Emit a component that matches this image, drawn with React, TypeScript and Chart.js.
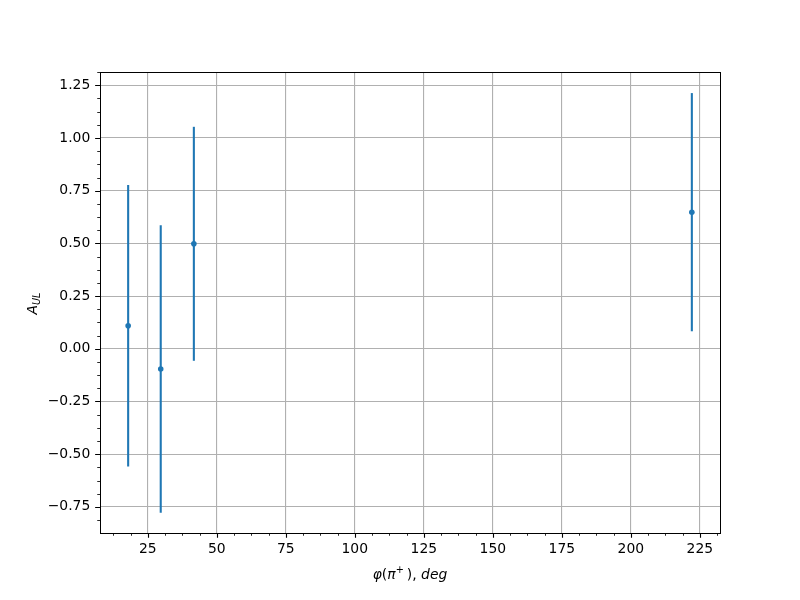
import React, { useEffect, useRef } from "react";
import { Chart, registerables } from "chart.js";

Chart.register(...registerables);

const xValues = [17.9, 29.7, 41.7, 222.1];
const yValues = [0.109, -0.096, 0.498, 0.648];
const yErrors = [0.668, 0.682, 0.555, 0.565];
const xTicks = [25, 50, 75, 100, 125, 150, 175, 200, 225];
const yTicks = [-0.75, -0.5, -0.25, 0, 0.25, 0.5, 0.75, 1.0, 1.25];
const xRange = [7.7, 232.3];
const yRange = [-0.874, 1.313];
const xMinorStep = 6.25;
const yMinorStep = 0.0625;

const BLUE = "#1f77b4";
const FONT = "'DejaVu Sans', sans-serif";
const FS = 13.9;
const PT = 100 / 72;

function minorTicks(range: number[], step: number, majors: number[]) {
  const out: number[] = [];
  const start = Math.ceil(range[0] / step);
  const end = Math.floor(range[1] / step);
  for (let i = start; i <= end; i++) {
    const v = i * step;
    if (!majors.some((m) => Math.abs(m - v) < 1e-9)) out.push(v);
  }
  return out;
}

type Seg = { t: string; it?: boolean; sup?: boolean; sub?: boolean };

function drawRich(ctx: CanvasRenderingContext2D, segs: Seg[], cx: number, cy: number) {
  const fontFor = (s: Seg) => {
    const size = s.sup || s.sub ? FS * 0.7 : FS;
    return `${s.it ? "italic " : ""}${size}px ${FONT}`;
  };
  let total = 0;
  const widths = segs.map((s) => {
    ctx.font = fontFor(s);
    const w = ctx.measureText(s.t).width;
    total += w;
    return w;
  });
  let x = cx - total / 2;
  ctx.textBaseline = "alphabetic";
  ctx.textAlign = "left";
  segs.forEach((s, i) => {
    ctx.font = fontFor(s);
    let dy = 0;
    if (s.sup) dy = -FS * 0.45;
    if (s.sub) dy = FS * 0.2;
    ctx.fillText(s.t, x, cy + dy);
    x += widths[i];
  });
}

const errorBarPlugin = {
  id: "errorBars",
  beforeDatasetsDraw(chart: any) {
    const { ctx, scales } = chart;
    const xs = scales.x;
    const ys = scales.y;
    ctx.save();
    ctx.strokeStyle = BLUE;
    ctx.lineWidth = 1.5 * PT;
    xValues.forEach((xv, i) => {
      const px = xs.getPixelForValue(xv);
      const p1 = ys.getPixelForValue(yValues[i] - yErrors[i]);
      const p2 = ys.getPixelForValue(yValues[i] + yErrors[i]);
      ctx.beginPath();
      ctx.moveTo(px, p1);
      ctx.lineTo(px, p2);
      ctx.stroke();
    });
    ctx.restore();
  },
};

const mplAxesPlugin = {
  id: "mplAxes",
  afterDraw(chart: any) {
    const { ctx, chartArea, scales } = chart;
    const { left, right, top, bottom } = chartArea;
    const xs = scales.x;
    const ys = scales.y;
    ctx.save();
    ctx.strokeStyle = "#000";
    // major ticks
    ctx.lineWidth = 0.8 * PT;
    ctx.beginPath();
    xTicks.forEach((v) => {
      const p = Math.round(xs.getPixelForValue(v)) + 0.5;
      ctx.moveTo(p, bottom);
      ctx.lineTo(p, bottom + 3.5 * PT);
    });
    yTicks.forEach((v) => {
      const p = Math.round(ys.getPixelForValue(v)) + 0.5;
      ctx.moveTo(left, p);
      ctx.lineTo(left - 3.5 * PT, p);
    });
    ctx.stroke();
    // minor ticks
    ctx.lineWidth = 0.6 * PT;
    ctx.beginPath();
    minorTicks(xRange, xMinorStep, xTicks).forEach((v) => {
      const p = Math.round(xs.getPixelForValue(v)) + 0.5;
      ctx.moveTo(p, bottom);
      ctx.lineTo(p, bottom + 2 * PT);
    });
    minorTicks(yRange, yMinorStep, yTicks).forEach((v) => {
      const p = Math.round(ys.getPixelForValue(v)) + 0.5;
      ctx.moveTo(left, p);
      ctx.lineTo(left - 2 * PT, p);
    });
    ctx.stroke();
    // spines
    ctx.lineWidth = 1;
    ctx.strokeRect(Math.round(left) + 0.5, Math.round(top) + 0.5, Math.round(right - left), Math.round(bottom - top));

    // axis labels
    ctx.fillStyle = "#000";
    drawRich(
      ctx,
      [
        { t: "φ", it: true },
        { t: "(" },
        { t: "π", it: true },
        { t: "+ ", sup: true },
        { t: "), " },
        { t: "deg", it: true },
      ],
      (left + right) / 2,
      579
    );
    ctx.save();
    ctx.translate(37, (top + bottom) / 2 + 1);
    ctx.rotate(-Math.PI / 2);
    drawRich(
      ctx,
      [
        { t: "A", it: true },
        { t: "UL", it: true, sub: true },
      ],
      0,
      0
    );
    ctx.restore();
    ctx.restore();
  },
};

function fmtY(v: number) {
  const s = Math.abs(v).toFixed(2);
  return v < -1e-9 ? "\u2212" + s : s;
}

export default function App() {
  const ref = useRef<HTMLCanvasElement | null>(null);
  useEffect(() => {
    if (!ref.current) return;
    const chart = new Chart(ref.current, {
      type: "scatter",
      data: {
        datasets: [
          {
            data: xValues.map((x, i) => ({ x, y: yValues[i] })),
            backgroundColor: BLUE,
            borderColor: BLUE,
            pointRadius: 2.8,
            pointBorderWidth: 0,
            pointHoverRadius: 2.8,
          },
        ],
      },
      options: {
        animation: false,
        responsive: false,
        events: [],
        layout: { padding: { top: 72, right: 80, left: 0, bottom: 0 } },
        plugins: {
          legend: { display: false },
          tooltip: { enabled: false },
        },
        scales: {
          x: {
            type: "linear",
            min: xRange[0],
            max: xRange[1],
            afterBuildTicks: (s: any) => {
              s.ticks = xTicks.map((v) => ({ value: v }));
            },
            afterFit: (s: any) => {
              s.height = 67;
            },
            grid: { color: "#b0b0b0", lineWidth: 0.8 * PT, drawTicks: false },
            border: { display: false },
            ticks: {
              color: "#000",
              font: { family: FONT, size: FS },
              padding: 8,
              maxRotation: 0,
              autoSkip: false,
              callback: (v: any) => String(v),
            },
          },
          y: {
            type: "linear",
            min: yRange[0],
            max: yRange[1],
            afterBuildTicks: (s: any) => {
              s.ticks = yTicks.map((v) => ({ value: v }));
            },
            afterFit: (s: any) => {
              s.width = 100;
            },
            grid: { color: "#b0b0b0", lineWidth: 0.8 * PT, drawTicks: false },
            border: { display: false },
            ticks: {
              color: "#000",
              font: { family: FONT, size: FS },
              padding: 9.7,
              autoSkip: false,
              callback: (v: any) => fmtY(Number(v)),
            },
          },
        },
      },
      plugins: [errorBarPlugin, mplAxesPlugin],
    });
    return () => chart.destroy();
  }, []);
  return (
    <div style={{ position: "absolute", left: 0, top: 0, width: 800, height: 600, background: "#fff" }}>
      <canvas ref={ref} width={800} height={600} style={{ width: 800, height: 600 }} />
    </div>
  );
}
